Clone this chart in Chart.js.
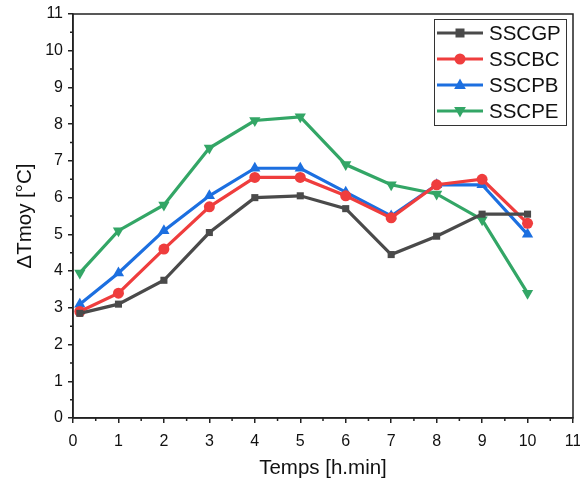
<!DOCTYPE html>
<html>
<head>
<meta charset="utf-8">
<script src="https://cdn.jsdelivr.net/npm/chart.js@4.4.1/dist/chart.umd.min.js"></script>
<style>
  html, body { margin: 0; padding: 0; background: #fff; }
  #wrap { width: 580px; height: 483px; }
</style>
</head>
<body>
<div id="wrap"><canvas id="c" width="580" height="483"></canvas></div>
<script>
// time points (h.min)
const times = [0.15, 1, 2, 3, 4, 5, 6, 7, 8, 9, 10];

// series values
const sscgp = [2.85, 3.1, 3.75, 5.05, 6.0, 6.05, 5.7, 4.45, 4.95, 5.55, 5.55];
const sscbc = [2.9, 3.4, 4.6, 5.75, 6.55, 6.55, 6.05, 5.45, 6.35, 6.5, 5.3];
const sscpb = [3.1, 3.95, 5.1, 6.05, 6.8, 6.8, 6.15, 5.5, 6.35, 6.35, 5.0];
const sscpe = [3.95, 5.1, 5.8, 7.35, 8.1, 8.2, 6.9, 6.35, 6.1, 5.4, 3.4];

const seriesNames = ['SSCGP', 'SSCBC', 'SSCPB', 'SSCPE'];
const seriesData = [sscgp, sscbc, sscpb, sscpe];
const colors = ['#4a4a4a', '#ef3d3d', '#1c6fe0', '#33a666'];
const markers = ['rect', 'circle', 'triangle', 'triangle'];
const rotations = [0, 0, 0, 180];
const radii = [5, 5.5, 6.5, 6.5];

const font = 'Liberation Sans, Arial, sans-serif';
const axisColor = '#222';

const datasets = seriesNames.map((name, i) => ({
  label: name,
  data: times.map((t, j) => ({ x: t, y: seriesData[i][j] })),
  borderColor: colors[i],
  backgroundColor: colors[i],
  borderWidth: 3.2,
  pointStyle: markers[i],
  rotation: rotations[i],
  pointRadius: radii[i],
  pointBorderWidth: 0,
  pointHoverRadius: radii[i],
  tension: 0
}));

// frame + minor ticks
const framePlugin = {
  id: 'frame',
  afterDraw(chart) {
    const { ctx, chartArea: a, scales } = chart;
    ctx.save();
    ctx.strokeStyle = axisColor;
    ctx.lineWidth = 1.5;
    ctx.strokeRect(a.left, a.top, a.right - a.left, a.bottom - a.top);
    ctx.beginPath();
    for (let v = 0.5; v < 11; v += 1) {
      const x = scales.x.getPixelForValue(v);
      ctx.moveTo(x, a.bottom);
      ctx.lineTo(x, a.bottom + 3);
      const y = scales.y.getPixelForValue(v);
      ctx.moveTo(a.left, y);
      ctx.lineTo(a.left - 3, y);
    }
    ctx.stroke();
    ctx.restore();
  }
};

// legend box inside the plot
function drawMarker(ctx, style, x, y, r, rot) {
  ctx.beginPath();
  if (style === 'rect') {
    ctx.rect(x - r * 0.9, y - r * 0.9, r * 1.8, r * 1.8);
  } else if (style === 'circle') {
    ctx.arc(x, y, r, 0, Math.PI * 2);
  } else {
    const s = rot ? -1 : 1;
    ctx.moveTo(x, y - s * r);
    ctx.lineTo(x + r * 0.9, y + s * r * 0.6);
    ctx.lineTo(x - r * 0.9, y + s * r * 0.6);
    ctx.closePath();
  }
  ctx.fill();
}

const legendPlugin = {
  id: 'boxLegend',
  afterDraw(chart) {
    const { ctx } = chart;
    const bx = 434, by = 19, bw = 132, bh = 106;
    ctx.save();
    ctx.fillStyle = '#fff';
    ctx.fillRect(bx, by, bw, bh);
    ctx.strokeStyle = '#333';
    ctx.lineWidth = 1;
    ctx.strokeRect(bx + 0.5, by + 0.5, bw, bh);
    chart.data.datasets.forEach((ds, i) => {
      const y = by + 14 + i * 26;
      ctx.strokeStyle = ds.borderColor;
      ctx.fillStyle = ds.borderColor;
      ctx.lineWidth = 3.2;
      ctx.beginPath();
      ctx.moveTo(bx + 3, y);
      ctx.lineTo(bx + 49, y);
      ctx.stroke();
      drawMarker(ctx, ds.pointStyle, bx + 26, y, ds.pointRadius, ds.rotation);
      ctx.fillStyle = '#111';
      ctx.font = '20.5px ' + font;
      ctx.textBaseline = 'middle';
      ctx.fillText(ds.label, bx + 55, y + 1);
    });
    ctx.restore();
  }
};

new Chart(document.getElementById('c'), {
  type: 'line',
  data: { datasets },
  plugins: [framePlugin, legendPlugin],
  options: {
    responsive: false,
    animation: false,
    layout: { padding: { top: 14, right: 7, left: 0, bottom: 0 } },
    plugins: { legend: { display: false }, tooltip: { enabled: false } },
    scales: {
      x: {
        type: 'linear',
        min: 0, max: 11,
        afterFit(s) { s.height = 65; s.paddingLeft = 0; s.paddingRight = 0; },
        ticks: { stepSize: 1, color: '#111', font: { family: font, size: 16 }, padding: 9, maxRotation: 0 },
        grid: { drawOnChartArea: false, drawTicks: true, tickLength: 5, color: axisColor, lineWidth: 1.5 },
        border: { color: axisColor, width: 1.5 },
        title: { display: true, text: 'Temps [h.min]', color: '#111', font: { family: font, size: 20.5 }, padding: { top: 4, bottom: 2 } }
      },
      y: {
        min: 0, max: 11,
        afterFit(s) { s.width = 73; s.paddingTop = 0; s.paddingBottom = 0; },
        ticks: { stepSize: 1, color: '#111', font: { family: font, size: 16 }, padding: 5 },
        grid: { drawOnChartArea: false, drawTicks: true, tickLength: 5, color: axisColor, lineWidth: 1.5 },
        border: { color: axisColor, width: 1.5 },
        title: { display: true, text: 'ΔTmoy [°C]', color: '#111', font: { family: font, size: 20.5 }, padding: { top: 13, bottom: 4 } }
      }
    }
  }
});
</script>
</body>
</html>
